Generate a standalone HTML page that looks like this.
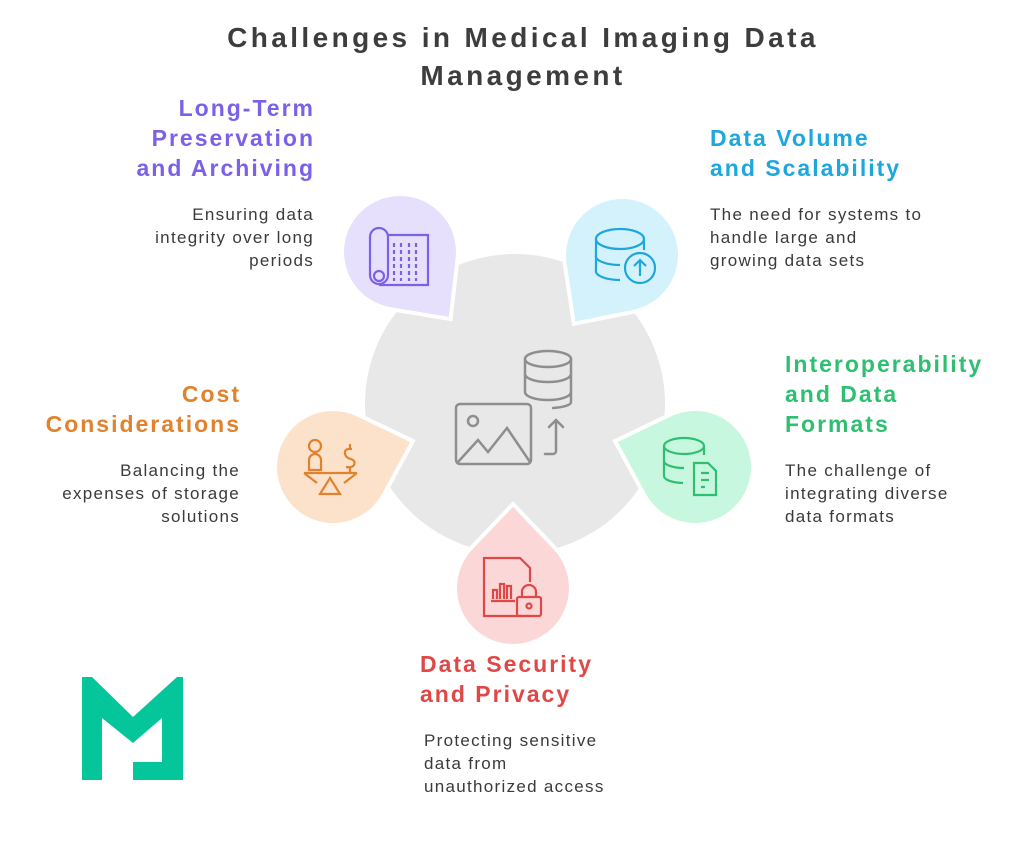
<!DOCTYPE html>
<html><head><meta charset="utf-8"><style>
html,body{margin:0;padding:0;background:#fff;}
svg{display:block}
.h{font-family:"Liberation Sans",sans-serif;font-weight:bold;font-size:23px;letter-spacing:2px;}
.b{font-family:"Liberation Sans",sans-serif;font-size:17px;letter-spacing:1.3px;fill:#3a3a3a;}
</style></head><body>
<svg width="1024" height="859" viewBox="0 0 1024 859" xmlns="http://www.w3.org/2000/svg">
<text x="523" y="47" text-anchor="middle" class="h" style="font-size:28px;letter-spacing:3.4px;fill:#3d3d3d">Challenges in Medical Imaging Data</text>
<text x="523" y="85" text-anchor="middle" class="h" style="font-size:28px;letter-spacing:3.4px;fill:#3d3d3d">Management</text>

<circle cx="515" cy="404" r="150" fill="#e8e8e8"/>

<defs>
<path id="tear" d="M0,-84 L41,-41 A58,58 0 1 1 -41,-41 Z"/>
</defs>
<g stroke="#fff" stroke-width="4">
<use href="#tear" transform="translate(400,252) rotate(143)" fill="#e6e0fc"/>
<use href="#tear" transform="translate(622,255) rotate(-145)" fill="#d4f2fc"/>
<use href="#tear" transform="translate(695,467) rotate(-72)" fill="#c7f7de"/>
<use href="#tear" transform="translate(333,467) rotate(72)" fill="#fde2cb"/>
<use href="#tear" transform="translate(513,588) rotate(0)" fill="#fcd7d7"/>
</g>

<g fill="none" stroke="#8e8e8e" stroke-width="2.5" stroke-linecap="round">
<rect x="456" y="404" width="75" height="60" rx="4"/>
<circle cx="473" cy="421" r="5"/>
<path d="M458,462 L478,440 L488,452 L507,428 L530,462"/>
<ellipse cx="548" cy="359" rx="23" ry="8"/>
<path d="M525,359 V392 A23,8 0 0 0 571,392 V359 M525,374 A23,8 0 0 0 571,374 M571,392 V402 A23,6 0 0 1 553,408"/>
<path d="M545,454 H553 A3,3 0 0 0 556,451 V420 M549,427 L556,420 L563,427"/>
</g>

<g fill="none" stroke="#7b61e8" stroke-width="2.2">
<rect x="370" y="228" width="18" height="56" rx="9"/>
<circle cx="379" cy="276" r="5"/>
<path d="M388,235 H428 V285 H379"/>
<path d="M394,243 V281 M401,243 V281 M409,243 V281 M416,243 V281" stroke-dasharray="4,3"/>
</g>
<g fill="none" stroke="#1ea7dc" stroke-width="2.2">
<ellipse cx="620" cy="239" rx="24" ry="10"/>
<path d="M596,239 V270 A24,9 0 0 0 620,280 M596,255 A24,9 0 0 0 620,265 M644,239 V250"/>
<circle cx="640" cy="268" r="15"/>
<path d="M640,276 V261 M634,266 L640,260 L646,266"/>
</g>
<g fill="none" stroke="#2fbf71" stroke-width="2.2">
<ellipse cx="684" cy="446" rx="20" ry="8"/>
<path d="M664,446 V476 A20,7 0 0 0 683,483 M664,461 A20,7 0 0 0 684,468 M704,446 V455"/>
<path d="M694,463 H708 L716,471 V495 H694 Z M701,473 H709 M701,480 H709 M701,487 H705"/>
</g>
<g fill="none" stroke="#e0822e" stroke-width="2.2">
<circle cx="315" cy="446" r="6"/>
<path d="M309,470 V460 A6,6 0 0 1 321,460 V470 Z"/>
<path d="M304,473 L357,473 M304,473 L317,483 M357,473 L344,483 M330,478 L320,494 H340 Z"/>
<path d="M352,449 Q344,448 345,454 Q346,458 351,459 Q356,461 354,465 Q352,468 346,467 M350,444 V449 M350,467 V472"/>
</g>
<g fill="none" stroke="#e04848" stroke-width="2.2">
<path d="M530,616 H484 V558 H520 L530,568 V582"/>
<path d="M493,599 V590 H497 V599 M500,599 V584 H504 V599 M507,599 V586 H511 V599 M491,601 H515"/>
<rect x="517" y="597" width="24" height="19" rx="2"/>
<path d="M522,597 V592 A7,7 0 0 1 536,592 V597"/>
<circle cx="529" cy="606" r="2.5"/>
</g>

<g fill="#7b61e8" text-anchor="end">
<text x="315" y="116" class="h">Long-Term</text>
<text x="315" y="146" class="h">Preservation</text>
<text x="315" y="176" class="h">and Archiving</text>
</g>
<g text-anchor="end">
<text x="314" y="220" class="b">Ensuring data</text>
<text x="314" y="243" class="b">integrity over long</text>
<text x="314" y="266" class="b">periods</text>
</g>

<g fill="#1ea7dc">
<text x="710" y="146" class="h">Data Volume</text>
<text x="710" y="176" class="h">and Scalability</text>
</g>
<text x="710" y="220" class="b">The need for systems to</text>
<text x="710" y="243" class="b">handle large and</text>
<text x="710" y="266" class="b">growing data sets</text>

<g fill="#2fbf71">
<text x="785" y="372" class="h">Interoperability</text>
<text x="785" y="402" class="h">and Data</text>
<text x="785" y="432" class="h">Formats</text>
</g>
<text x="785" y="476" class="b">The challenge of</text>
<text x="785" y="499" class="b">integrating diverse</text>
<text x="785" y="522" class="b">data formats</text>

<g fill="#e0822e" text-anchor="end">
<text x="241" y="402" class="h">Cost</text>
<text x="241" y="432" class="h">Considerations</text>
</g>
<g text-anchor="end">
<text x="240" y="476" class="b">Balancing the</text>
<text x="240" y="499" class="b">expenses of storage</text>
<text x="240" y="522" class="b">solutions</text>
</g>

<g fill="#e04848">
<text x="420" y="672" class="h">Data Security</text>
<text x="420" y="702" class="h">and Privacy</text>
</g>
<text x="424" y="746" class="b">Protecting sensitive</text>
<text x="424" y="769" class="b">data from</text>
<text x="424" y="792" class="b">unauthorized access</text>

<polygon fill="#05c69a" points="82,677 92,677 133,717 177,677 183,677 183,780 133,780 133,762 162,762 162,718 133,743 102,718 102,780 82,780"/>
</svg>
</body></html>
